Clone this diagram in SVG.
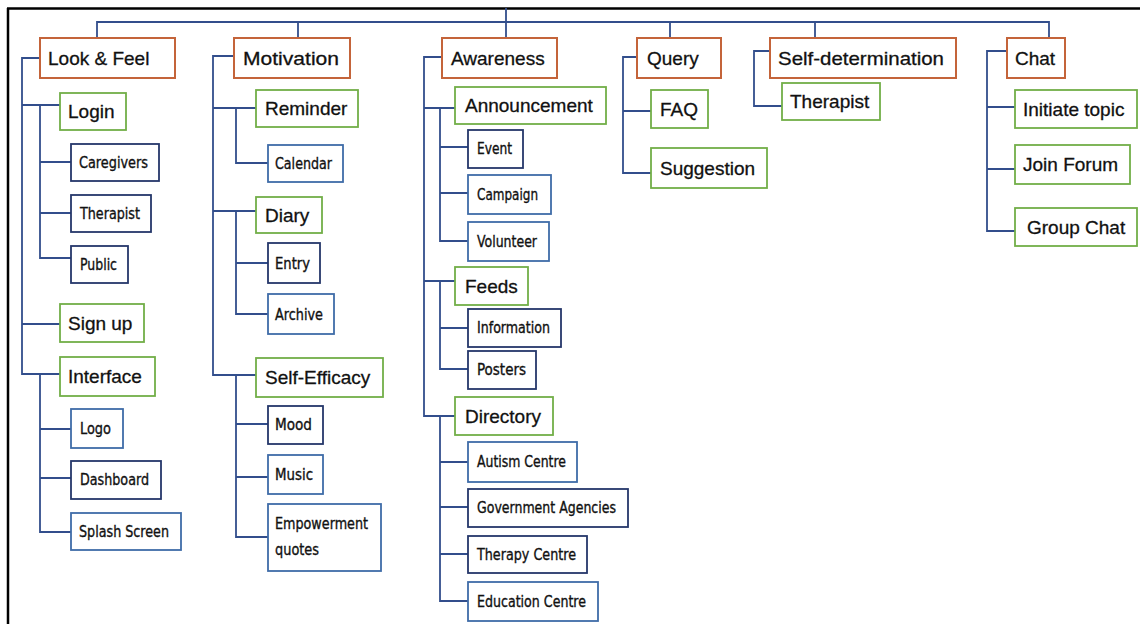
<svg xmlns="http://www.w3.org/2000/svg" width="1140" height="624" viewBox="0 0 1140 624">
<style>
rect{fill:#fff}
.l1{stroke:#C4643A;stroke-width:2}
.l2{stroke:#72AE48;stroke-width:1.8}
.na{stroke:#25376A;stroke-width:1.8}
.bl{stroke:#3F6CA8;stroke-width:1.8}
.t{font-family:"Liberation Sans",Arial,sans-serif;font-size:19px;fill:#111;stroke:#111;stroke-width:0.3}
.s{font-family:"DejaVu Sans Condensed","DejaVu Sans",sans-serif;font-size:16.5px;fill:#111;stroke:#111;stroke-width:0.35}
.c path{fill:none;stroke:#324E8C;stroke-width:1.8}
</style>
<rect width="1140" height="624" fill="#fff"/>
<path d="M7 8.5H1140M8 8V624" stroke="#000" stroke-width="2.5" fill="none"/>
<g class="c" id="connectors">
<path d="M97 38V22H1049V38M298 22V38M670 22V38M815 22V38M506 8V38"/>
<path d="M40 58H22V374H60M22 105H60M22 324H60M40 105V258H71M40 162H71M40 213H71M40 374V532H71M40 429H71M40 478H71"/>
<path d="M234 56H213V375H256M213 108H256M213 211H256M236 108V163H268M236 211V314H268M236 263H268M236 375V537H268M236 424H268M236 477H268"/>
<path d="M442 57H424V416H455M424 108H455M424 281H455M440 108V241H468M440 147H468M440 193H468M440 281V369H468M440 328H468M440 416V601H468M440 462H468M440 507H468M440 554H468"/>
<path d="M637 57H623V173H651M623 111H651"/>
<path d="M770 51H754V106H782"/>
<path d="M1007 51H987V231H1015M987 107H1015M987 169H1015"/>
</g>
<g id="look-feel"><rect class="l1" x="40" y="38" width="135" height="40"/><text class="t" x="48" y="65">Look &amp; Feel</text></g>
<g id="motivation"><rect class="l1" x="234" y="38" width="116" height="40"/><text class="t" x="243" y="65" textLength="96" lengthAdjust="spacingAndGlyphs">Motivation</text></g>
<g id="awareness"><rect class="l1" x="442" y="38" width="115" height="40"/><text class="t" x="451" y="65">Awareness</text></g>
<g id="query"><rect class="l1" x="637" y="38" width="84" height="40"/><text class="t" x="647" y="65">Query</text></g>
<g id="self-determination"><rect class="l1" x="770" y="38" width="186" height="40"/><text class="t" x="778" y="65" textLength="166" lengthAdjust="spacingAndGlyphs">Self-determination</text></g>
<g id="chat"><rect class="l1" x="1007" y="38" width="58" height="40"/><text class="t" x="1015" y="65">Chat</text></g>

<g id="login"><rect class="l2" x="60" y="93" width="66" height="37"/><text class="t" x="68" y="118">Login</text></g>
<g id="signup"><rect class="l2" x="60" y="304" width="84" height="38"/><text class="t" x="68" y="330">Sign up</text></g>
<g id="interface"><rect class="l2" x="60" y="357" width="95" height="39"/><text class="t" x="68" y="383">Interface</text></g>
<g id="reminder"><rect class="l2" x="256" y="90" width="102" height="37"/><text class="t" x="265" y="115">Reminder</text></g>
<g id="diary"><rect class="l2" x="256" y="197" width="66" height="36"/><text class="t" x="265" y="222">Diary</text></g>
<g id="self-efficacy"><rect class="l2" x="256" y="358" width="127" height="39"/><text class="t" x="265" y="384">Self-Efficacy</text></g>
<g id="announcement"><rect class="l2" x="455" y="87" width="151" height="37"/><text class="t" x="465" y="112">Announcement</text></g>
<g id="feeds"><rect class="l2" x="455" y="267" width="73" height="38"/><text class="t" x="465" y="293">Feeds</text></g>
<g id="directory"><rect class="l2" x="455" y="397" width="98" height="38"/><text class="t" x="465" y="423">Directory</text></g>
<g id="faq"><rect class="l2" x="651" y="90" width="57" height="38"/><text class="t" x="660" y="116">FAQ</text></g>
<g id="suggestion"><rect class="l2" x="651" y="148" width="116" height="40"/><text class="t" x="660" y="175">Suggestion</text></g>
<g id="sd-therapist"><rect class="l2" x="782" y="83" width="98" height="37"/><text class="t" x="790" y="108">Therapist</text></g>
<g id="initiate-topic"><rect class="l2" x="1015" y="90" width="122" height="38"/><text class="t" x="1023" y="116">Initiate topic</text></g>
<g id="join-forum"><rect class="l2" x="1015" y="145" width="115" height="39"/><text class="t" x="1023" y="171">Join Forum</text></g>
<g id="group-chat"><rect class="l2" x="1015" y="208" width="122" height="38"/><text class="t" x="1027" y="234">Group Chat</text></g>

<g id="caregivers"><rect class="na" x="71" y="144" width="88" height="37"/><text class="s" x="79" y="168" textLength="69" lengthAdjust="spacingAndGlyphs">Caregivers</text></g>
<g id="lf-therapist"><rect class="na" x="71" y="195" width="80" height="37"/><text class="s" x="80" y="219" textLength="60" lengthAdjust="spacingAndGlyphs">Therapist</text></g>
<g id="public"><rect class="na" x="71" y="246" width="57" height="37"/><text class="s" x="80" y="270" textLength="37" lengthAdjust="spacingAndGlyphs">Public</text></g>
<g id="logo"><rect class="bl" x="71" y="409" width="52" height="39"/><text class="s" x="80" y="434" textLength="31" lengthAdjust="spacingAndGlyphs">Logo</text></g>
<g id="dashboard"><rect class="na" x="71" y="461" width="90" height="38"/><text class="s" x="80" y="485" textLength="69" lengthAdjust="spacingAndGlyphs">Dashboard</text></g>
<g id="splash"><rect class="bl" x="71" y="513" width="110" height="37"/><text class="s" x="79" y="537" textLength="90" lengthAdjust="spacingAndGlyphs">Splash Screen</text></g>
<g id="calendar"><rect class="bl" x="268" y="145" width="75" height="37"/><text class="s" x="275" y="169" textLength="57" lengthAdjust="spacingAndGlyphs">Calendar</text></g>
<g id="entry"><rect class="na" x="268" y="243" width="52" height="40"/><text class="s" x="275" y="269" textLength="35" lengthAdjust="spacingAndGlyphs">Entry</text></g>
<g id="archive"><rect class="bl" x="268" y="294" width="66" height="40"/><text class="s" x="275" y="320" textLength="48" lengthAdjust="spacingAndGlyphs">Archive</text></g>
<g id="mood"><rect class="na" x="268" y="406" width="55" height="38"/><text class="s" x="275" y="430" textLength="37" lengthAdjust="spacingAndGlyphs">Mood</text></g>
<g id="music"><rect class="bl" x="268" y="455" width="55" height="39"/><text class="s" x="275" y="480" textLength="38" lengthAdjust="spacingAndGlyphs">Music</text></g>
<g id="empowerment"><rect class="bl" x="268" y="504" width="113" height="67"/><text class="s" x="275" y="529" textLength="93" lengthAdjust="spacingAndGlyphs">Empowerment</text><text class="s" x="275" y="555" textLength="44" lengthAdjust="spacingAndGlyphs">quotes</text></g>
<g id="event"><rect class="na" x="468" y="130" width="55" height="38"/><text class="s" x="477" y="154" textLength="35" lengthAdjust="spacingAndGlyphs">Event</text></g>
<g id="campaign"><rect class="bl" x="468" y="175" width="83" height="39"/><text class="s" x="477" y="200" textLength="61" lengthAdjust="spacingAndGlyphs">Campaign</text></g>
<g id="volunteer"><rect class="bl" x="468" y="222" width="81" height="39"/><text class="s" x="477" y="247" textLength="60" lengthAdjust="spacingAndGlyphs">Volunteer</text></g>
<g id="information"><rect class="na" x="468" y="309" width="93" height="38"/><text class="s" x="477" y="333" textLength="73" lengthAdjust="spacingAndGlyphs">Information</text></g>
<g id="posters"><rect class="na" x="468" y="351" width="68" height="38"/><text class="s" x="477" y="375" textLength="49" lengthAdjust="spacingAndGlyphs">Posters</text></g>
<g id="autism"><rect class="bl" x="468" y="442" width="109" height="40"/><text class="s" x="477" y="467" textLength="89" lengthAdjust="spacingAndGlyphs">Autism Centre</text></g>
<g id="government"><rect class="na" x="468" y="489" width="160" height="38"/><text class="s" x="477" y="513" textLength="139" lengthAdjust="spacingAndGlyphs">Government Agencies</text></g>
<g id="therapy-centre"><rect class="na" x="468" y="536" width="119" height="37"/><text class="s" x="477" y="560" textLength="99" lengthAdjust="spacingAndGlyphs">Therapy Centre</text></g>
<g id="education"><rect class="bl" x="468" y="582" width="130" height="39"/><text class="s" x="477" y="607" textLength="109" lengthAdjust="spacingAndGlyphs">Education Centre</text></g>
</svg>
